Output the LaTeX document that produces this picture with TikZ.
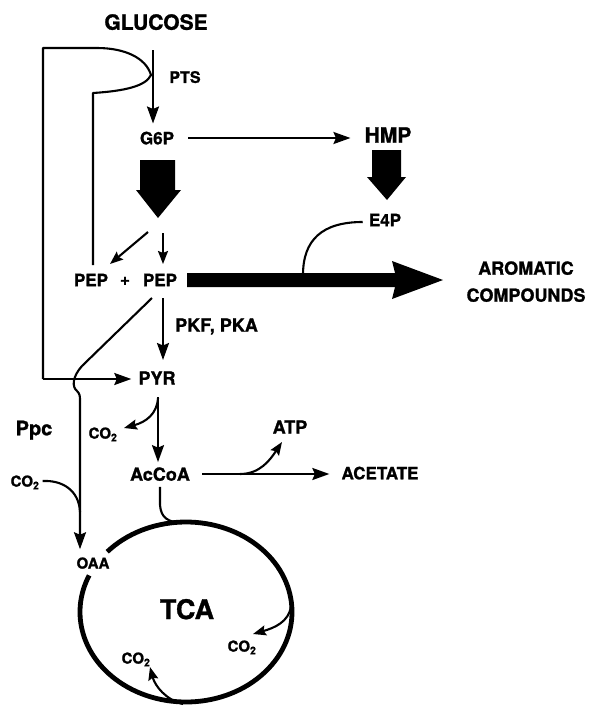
\documentclass[tikz,border=0pt]{standalone}
\usepackage{fontspec}
\setmainfont{TeX Gyre Heros}[BoldFeatures={FakeBold=1.2}]
\usetikzlibrary{arrows.meta,calc}
\newcommand\cotwo{CO\textsubscript{2}}
\begin{document}
\begin{tikzpicture}[x=1pt,y=-1pt,
  lbl/.style={inner sep=0pt, text depth=0pt, font=\bfseries\fontsize{#1}{#1}\selectfont},
  lbl/.default=17,
  ln/.style={line width=2.1pt, line join=round},
  arr/.style={ln, -{Stealth[length=17pt,width=12pt,inset=2.5pt]}},
  sarr/.style={ln, -{Stealth[length=13pt,width=10pt,inset=2pt]}},
  block/.style={fill=black, draw=none},
  cyc/.style={line width=4.8pt}]
\useasboundingbox (0,0) rectangle (589,712);
% labels
\node[lbl=21] (glc) at (156,22) {GLUCOSE};
\node[lbl=16] (pts) at (185,77) {PTS};
\node[lbl=17] (g6p) at (157,138) {G6P};
\node[lbl=21] (hmp) at (388,135) {HMP};
\node[lbl=17] (e4p) at (385,220) {E4P};
\node[lbl=17] (pepl) at (91,280) {PEP};
\node[lbl=17] (plus) at (125,281) {+};
\node[lbl=17] (pepr) at (160,280) {PEP};
\node[lbl=18,anchor=west] (pkf) at (175,325) {PKF, PKA};
\node[lbl=18] (pyr) at (157,378) {PYR};
\node[lbl=20] (ppc) at (34,428) {Ppc};
\node[lbl=15] (co2a) at (103,433) {\cotwo};
\node[lbl=15] (co2b) at (25,481) {\cotwo};
\node[lbl=18] (accoa) at (160,474) {AcCoA};
\node[lbl=18] (atp) at (290,427) {ATP};
\node[lbl=17] (acet) at (380,473) {ACETATE};
\node[lbl=18] (arom) at (526,268) {AROMATIC};
\node[lbl=18] (comp) at (526,295) {COMPOUNDS};
\node[lbl=15] (oaa) at (93,563) {OAA};
\node[lbl=27] (tca) at (187,609) {TCA};
\node[lbl=15] (co2c) at (242,646) {\cotwo};
\node[lbl=15] (co2d) at (136,658) {\cotwo};
% coordinates
\coordinate (gtop) at (153,50);
\coordinate (loopR) at (151,75);
\coordinate (loopTL) at (43,48);
\coordinate (loopBL) at (43,379);
\coordinate (inTop) at (93,265);
\coordinate (diagS) at (152,298);
\coordinate (tcac) at (186,612);
% glucose -> G6P
\draw[arr,shorten >=8pt] (gtop) -- (gtop |- g6p.north);
% PTS loop
\draw[ln] (inTop) -- (93,93) .. controls (125,91) and (146,86) .. (loopR)
  .. controls (146,58) and (125,48) .. (97,48) -- (loopTL) -- (loopBL);
\draw[arr,shorten >=7pt] (loopBL) -- (loopBL -| pyr.west);
% G6P -> HMP
\draw[arr,shorten <=14pt,shorten >=14pt] (g6p.east) -- (g6p.east -| hmp.west);
% block arrows
\fill[block] (140,160) -- (175,160) -- (175,190) -- (181,190) -- (158,218) -- (136,190) -- (140,190) -- cycle;
\fill[block] (372,150) -- (401,150) -- (401,177) -- (406,177) -- (387,200) -- (367,177) -- (372,177) -- cycle;
\fill[block] (187,273) -- (395,273) -- (392,261) -- (443,280) -- (392,299) -- (395,287) -- (187,287) -- cycle;
% E4P
\draw[ln] ($(e4p.west)+(-6,2)$) .. controls (322,222) and (303,240) .. (303,275);
% small arrows to PEP
\draw[sarr] (148,232) -- (110,264);
\draw[sarr] (163,233) -- (163,264);
% PEP -> PYR
\draw[arr,shorten >=10pt] (163,298) -- (163,370);
% PEP -> OAA
\draw[arr,shorten >=8pt] (diagS) -- (82,366) .. controls (72,377) and (72,387) .. (77,391)
  .. controls (80,394) and (80,396) .. (80,402) -- (oaa.north -| 80,0);
% CO2 into Ppc
\draw[ln] ($(co2b.east)+(3,0)$) .. controls (62,480) and (79,490) .. (80,512);
% PYR -> AcCoA
\draw[arr,shorten >=5pt] (158,397) -- (accoa.north -| 158,0);
\draw[sarr] (158,398) .. controls (157,414) and (146,422) .. (124,428);
% AcCoA -> acetate
\draw[arr,shorten <=12pt,shorten >=12pt] (accoa.east) -- (accoa.east -| acet.west);
\draw[sarr] (240,474) .. controls (260,474) and (270,460) .. (282,442);
% AcCoA -> TCA
\draw[ln] ($(accoa.south)+(0,6)$) -- (160,505) .. controls (161,518) and (168,522) .. (182,523);
% TCA cycle
\draw[cyc] (tcac) ++(-138:106 and 90) arc[start angle=-138, end angle=204, x radius=106, y radius=90];
\draw[sarr] (291,606) .. controls (289,622) and (274,628) .. (253,634);
\draw[sarr] (183,704) .. controls (166,700) and (155,686) .. (150,667);
\end{tikzpicture}
\end{document}
